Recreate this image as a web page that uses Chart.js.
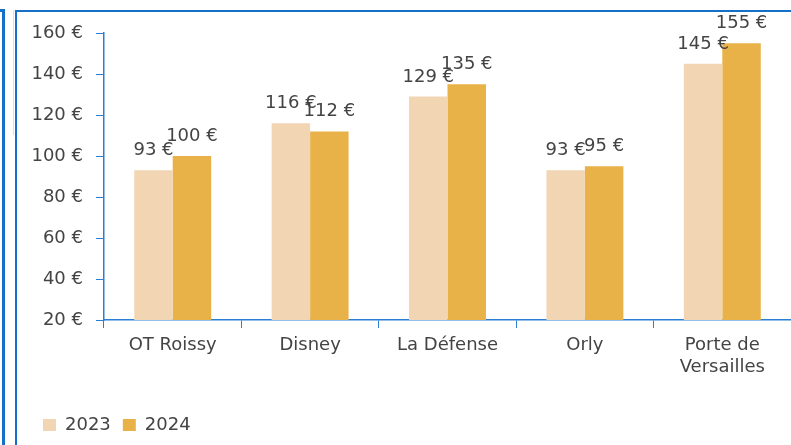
<!DOCTYPE html>
<html>
<head>
<meta charset="utf-8">
<script src="https://cdn.jsdelivr.net/npm/chart.js@4.4.1/dist/chart.umd.min.js"></script>
<style>
  body { margin: 0; background: #fff; }
  #wrap { position: relative; width: 791px; height: 445px; overflow: hidden; }
  #chart { position: absolute; left: 0; top: 0; }
  .frameL { position: absolute; left: -20px; top: 9px; width: 20px; height: 460px; border: 3px solid #1570c9; box-sizing: border-box; left: -15px; }
  .frameR { position: absolute; left: 15px; top: 10px; width: 800px; height: 460px; border-left: 2px solid #1570c9; border-top: 2px solid #1570c9; }
  .thin { position: absolute; left: 13px; top: 10px; width: 1px; height: 125px; background: #f6dcc4; }
</style>
</head>
<body>
<div id="wrap">
  <div class="frameL"></div>
  <div class="thin"></div>
  <div class="frameR"></div>
  <canvas id="chart" width="791" height="445"></canvas>
</div>
<script>
/* ------------------------------------------- */
/* DATA -------------------------------------- */
/* ------------------------------------------- */
let sites = ["OT Roissy", "Disney", "La Défense", "Orly", ["Porte de", "Versailles"]];
let values2023 = [93, 116, 129, 93, 145];
let values2024 = [100, 112, 135, 95, 155];
let seriesNames = ["2023", "2024"];

let axisBlue = '#2a7fd4';
let textGrey = '#444444';
let fontName = 'DejaVu Sans';

/* value labels above the bars */
let barLabels = {
  id: 'barLabels',
  afterDatasetsDraw(chart) {
    let ctx = chart.ctx;
    ctx.save();
    ctx.font = '18px "' + fontName + '"';
    ctx.fillStyle = textGrey;
    ctx.textAlign = 'center';
    ctx.textBaseline = 'alphabetic';
    chart.data.datasets.forEach((ds, i) => {
      chart.getDatasetMeta(i).data.forEach((bar, j) => {
        ctx.fillText(ds.data[j] + ' €', bar.x, bar.y - 15);
      });
    });
    ctx.restore();
  }
};

let ctx = document.getElementById('chart').getContext('2d');
let barChart = new Chart(ctx, {
  type: 'bar',
  data: {
    labels: sites,
    datasets: [{
      label: seriesNames[0],
      data: values2023,
      backgroundColor: '#f2d6b4'
    }, {
      label: seriesNames[1],
      data: values2024,
      backgroundColor: '#e9b248'
    }]
  },
  options: {
    responsive: false,
    animation: false,
    layout: { padding: { left: 31, right: 0, top: 33, bottom: 1 } },
    datasets: { bar: { categoryPercentage: 0.56, barPercentage: 1 } },
    plugins: {
      tooltip: { enabled: false },
      legend: {
        position: 'bottom',
        align: 'start',
        labels: {
          boxWidth: 13,
          boxHeight: 12,
          padding: 12,
          color: textGrey,
          font: { family: fontName, size: 18 }
        }
      }
    },
    scales: {
      x: {
        afterFit(scale) { scale.height = 84; },
        grid: { display: true, drawOnChartArea: false, drawTicks: true, tickLength: 8, color: axisBlue, offset: true },
        border: { color: axisBlue, width: 1.5 },
        ticks: { color: textGrey, padding: 7, font: { family: fontName, size: 18 }, maxRotation: 0 }
      },
      y: {
        min: 20,
        max: 160,
        afterFit(scale) { scale.width = 73; },
        grid: { display: true, drawOnChartArea: false, drawTicks: true, tickLength: 8, color: axisBlue },
        border: { color: axisBlue, width: 1.5 },
        ticks: {
          stepSize: 20,
          padding: 13,
          color: textGrey,
          font: { family: fontName, size: 18 },
          callback: (v) => v + ' €'
        }
      }
    }
  },
  plugins: [barLabels]
});
</script>
</body>
</html>
